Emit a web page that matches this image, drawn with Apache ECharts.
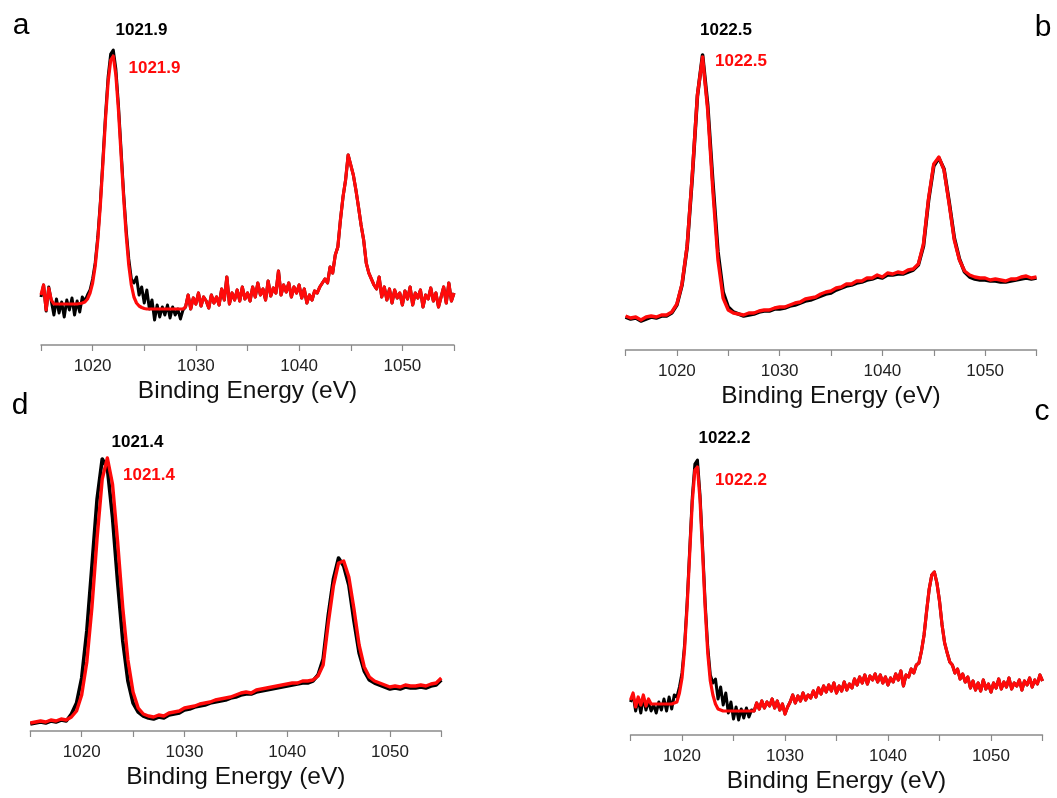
<!DOCTYPE html>
<html>
<head>
<meta charset="utf-8">
<script src="https://cdn.jsdelivr.net/npm/echarts@6/dist/echarts.min.js"></script>
<style>
html,body{margin:0;padding:0;background:#fff;}
#chart{width:1057px;height:798px;}
</style>
</head>
<body>
<div id="chart"></div>
<script>
// Binding energy axis (eV)
const energyMin = 1015;
const energyMax = 1055;
const tickStep = 5;

// Panel a (0.25 eV steps): black/red from 1015 to 1028.75, shared noisy part from 1029 to 1055
const aBlackLow = [
  48,60,34,58,44,30,46,32,
  43,28,45,35,47,30,44,33,
  48,44,50,55,66,82,108,143,
  186,230,268,291,295,276,240,196,
  152,115,86,66,62,68,50,58,
  42,55,36,45,25,40,28,38,
  30,40,27,38,30,36,26,35
];
const aRedLow = [
  50,60,35,57,45,41,41,41,
  41,41,41,41,41,41,41,41.5,
  42,43,46,52,62,79,105,140,
  182,226,263,285,289,270,235,191,
  148,110,80,60,48,42,39,37.5,
  36.5,36,36,36,36,36,36,36,
  36,36,36,36,36,36,36,36
];
const aShared = [
  38,50,36,47,41,52,39,48,
  44,37,50,42,48,40,56,45,
  68,41,52,45,55,44,58,46,
  52,44,58,48,62,50,56,45,
  64,49,57,52,74,50,60,53,
  62,48,58,52,60,47,56,42,
  50,45,54,52,58,62,66,62,
  78,72,90,98,125,148,165,190,
  180,170,155,138,120,105,82,72,
  66,60,56,68,48,58,45,56,
  42,55,47,52,40,54,46,58,
  40,52,47,55,38,50,46,57,
  44,52,38,48,58,42,62,44,
  52
];

// Panel b (0.5 eV steps, 1015 to 1055)
const bBlack = [
  33,31,32,29,31,33,32,34,34,37,
  45,65,103,173,254,295,245,168,98,58,
  43,38,36,34,35,36,38,39,39,41,
  41,42,44,45,47,49,50,52,54,56,
  57,60,62,64,65,67,68,70,71,73,
  72,75,75,76,76,78,80,85,104,150,
  184,192,181,148,112,91,78,73,71,70,
  70,69,69,68,68,69,70,71,72,71,
  72
];
const bRed = [
  34,32,33,30,33,34,33,35,35,38,
  46,66,104,175,255,293,240,160,90,52,
  40,37,36,35,37,37,39,40,40,42,
  43,43,45,47,48,51,52,53,56,58,
  59,62,63,66,66,69,69,72,72,75,
  73,77,76,78,77,80,81,86,106,152,
  186,193,180,146,110,90,79,75,73,72,
  72,70,71,70,69,71,71,73,74,72,
  73
];

// Panel d (0.5 eV steps, 1015 to 1055)
const dBlack = [
  7,8,9,8,10,9,11,10,17,28,
  53,100,165,232,272,263,214,149,90,50,
  28,19,15,13,12,14,13,16,17,18,
  21,22,24,25,26,28,29,30,31,33,
  34,36,37,37,39,40,41,42,43,44,
  45,46,47,48,48,50,56,72,116,152,
  173,165,146,110,78,60,51,48,46,44,
  42,43,42,44,43,43,44,43,45,46,
  51
];
const dRed = [
  8,9,10,9,11,10,12,11,14,20,
  36,69,124,193,252,273,247,189,123,71,
  39,23,17,15,14,16,15,18,19,20,
  23,24,25,27,28,29,31,32,33,34,
  36,38,39,38,41,42,43,44,45,46,
  47,48,48,50,50,51,55,66,108,145,
  168,170,154,122,86,64,54,50,48,46,
  44,45,44,46,45,45,46,45,47,48,
  53
];

// Panel c (0.25 eV steps): black/red from 1015 to 1026.75, shared noisy part from 1027 to 1055
const cBlackLow = [
  33,40,24,36,22,38,25,34,
  24,30,22,33,25,36,24,38,
  26,40,38,48,62,90,133,186,
  238,271,275,240,188,132,88,60,
  52,56,36,48,30,42,22,33,
  16,28,15,26,17,27,18,25
];
const cRedLow = [
  35,42,28,38,30,40,29,36,
  31,31,31,31,31,31,31,31,
  31,32,33,42,57,86,129,182,
  233,265,268,235,182,127,82,54,
  40,31,26,25,24,24,24,24,
  24,24,24,24,24,24,24,24
];
const cShared = [
  24,32,26,34,27,33,29,36,
  27,34,25,31,21,28,33,40,
  32,39,34,42,35,40,37,44,
  38,47,41,49,43,50,44,52,
  42,49,44,53,45,51,47,56,
  50,58,52,60,51,59,55,61,
  53,60,52,58,50,57,53,61,
  55,64,49,60,58,66,62,70,
  72,84,100,124,146,160,163,152,
  134,110,92,82,73,70,62,66,
  56,61,53,58,47,54,45,52,
  44,55,46,51,43,52,47,56,
  46,53,48,57,46,52,49,55,
  45,54,50,57,48,55,51,60,
  54
];

// Peak position labels
const peakLabels = { a: '1021.9', b: '1022.5', c: '1022.2', d: '1021.4' };
const axisTitle = 'Binding Energy (eV)';

function pts(start, step, vals) {
  return vals.map((v, i) => [start + i * step, v]);
}

const FONT = '"Liberation Sans", Arial, Helvetica, sans-serif';
const RED = '#ff0a0a';

const panels = [
  { key: 'a', left: 41, axisY: 345, width: 413 },
  { key: 'b', left: 625.5, axisY: 350, width: 411 },
  { key: 'd', left: 30.3, axisY: 731, width: 411 },
  { key: 'c', left: 630.5, axisY: 735, width: 412 }
];
const H = 320;

const grids = [], xAxes = [], yAxes = [];
panels.forEach((p) => {
  grids.push({ left: p.left, top: p.axisY - H, width: p.width, height: H });
});
panels.forEach((p, i) => {
  xAxes.push({
    type: 'value', gridIndex: i, min: energyMin, max: energyMax, interval: tickStep,
    name: axisTitle, nameLocation: 'middle', nameGap: 34,
    nameTextStyle: { fontFamily: FONT, fontSize: 24.5, color: '#111' },
    axisLine: { lineStyle: { color: '#8a8a8a', width: 1.5 } },
    axisTick: { show: true, length: 6, lineStyle: { color: '#8a8a8a', width: 1.2 } },
    axisLabel: {
      margin: 13, fontFamily: FONT, fontSize: 17, color: '#222',
      formatter: (v) => (v % 10 === 0 ? String(v) : '')
    },
    splitLine: { show: false }
  });
  yAxes.push({ type: 'value', gridIndex: i, min: 0, max: H, show: false });
});

function line(idx, data, color, width, z) {
  return {
    type: 'line', xAxisIndex: idx, yAxisIndex: idx, data: data,
    showSymbol: false, symbol: 'none', smooth: false, z: z,
    lineStyle: { color: color, width: width, join: 'round' },
    animation: false
  };
}

const series = [
  line(0, pts(1015, 0.25, aBlackLow.concat(aShared)), '#000', 3, 2),
  line(0, pts(1015, 0.25, aRedLow.concat(aShared)), RED, 3.2, 3),
  line(1, pts(1015, 0.5, bBlack), '#000', 3.6, 2),
  line(1, pts(1015, 0.5, bRed), RED, 3.4, 3),
  line(2, pts(1015, 0.5, dBlack), '#000', 3.6, 2),
  line(2, pts(1015, 0.5, dRed), RED, 3.4, 3),
  line(3, pts(1015, 0.25, cBlackLow.concat(cShared)), '#000', 3, 2),
  line(3, pts(1015, 0.25, cRedLow.concat(cShared)), RED, 3.2, 3)
];

function txt(x, y, s, size, color, bold) {
  return {
    type: 'text', x: x, y: y, silent: true,
    style: {
      text: s, fill: color, font: (bold ? 'bold ' : '') + size + 'px ' + FONT,
      textAlign: 'center', textVerticalAlign: 'middle'
    }
  };
}

const graphic = [
  txt(21, 26, 'a', 30, '#000', false),
  txt(1043, 28, 'b', 30, '#000', false),
  txt(20, 406, 'd', 30, '#000', false),
  txt(1042, 412, 'c', 30, '#000', false),
  txt(141.5, 30, peakLabels.a, 17, '#000', true),
  txt(154.5, 68, peakLabels.a, 17, RED, true),
  txt(726, 30, peakLabels.b, 17, '#000', true),
  txt(741, 61, peakLabels.b, 17, RED, true),
  txt(137.5, 442.5, peakLabels.d, 17, '#000', true),
  txt(149, 475.5, peakLabels.d, 17, RED, true),
  txt(724.5, 438.5, peakLabels.c, 17, '#000', true),
  txt(741, 480, peakLabels.c, 17, RED, true)
];

const chart = echarts.init(document.getElementById('chart'), null, { renderer: 'canvas' });
chart.setOption({
  backgroundColor: '#fff',
  animation: false,
  grid: grids,
  xAxis: xAxes,
  yAxis: yAxes,
  series: series,
  graphic: graphic
});
</script>
</body>
</html>
